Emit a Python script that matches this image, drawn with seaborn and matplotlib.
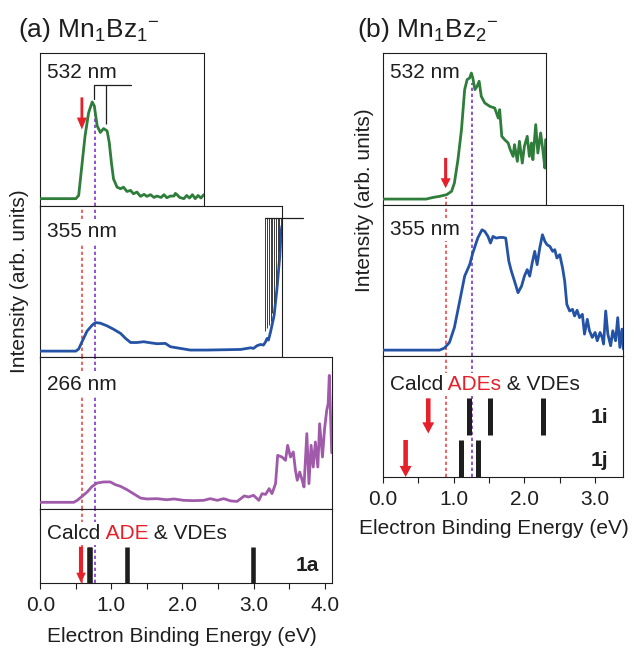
import matplotlib
matplotlib.use("Agg")
import matplotlib.pyplot as plt
import seaborn as sns
from matplotlib.ticker import FixedLocator, MultipleLocator, FormatStrFormatter

sns.set_style("ticks")
plt.rcParams["font.family"] = ["Liberation Sans", "DejaVu Sans"]
plt.rcParams["mathtext.fontset"] = "custom"
plt.rcParams["mathtext.rm"] = "Liberation Sans"
plt.rcParams["mathtext.default"] = "regular"

FS = 15
INK = "#1e1e1e"
GREEN = "#2f7d3a"
BLUE = "#2453a6"
PURPLE = "#a05aaa"
RED = "#e5202a"
RED_DOT = "#f04848"
PURPLE_DOT = "#7e36c8"

# ---------------- Mn1Bz1- spectra (eV, relative intensity) ----------------
a532_eV = [0.00, 0.50, 0.54, 0.59, 0.63, 0.68, 0.73, 0.76, 0.80, 0.845, 0.89, 0.94, 0.97,
           1.00, 1.03, 1.08, 1.13, 1.17, 1.22, 1.27, 1.31, 1.36, 1.41, 1.46, 1.50, 1.55,
           1.60, 1.64, 1.70, 1.74, 1.78, 1.83, 1.88, 1.90, 1.92, 1.96, 2.02, 2.06, 2.10,
           2.14, 2.18, 2.22, 2.26, 2.30]
a532_int = [0.048, 0.048, 0.069, 0.286, 0.459, 0.610, 0.680, 0.654, 0.524, 0.481, 0.506,
            0.491, 0.416, 0.286, 0.177, 0.123, 0.113, 0.123, 0.095, 0.102, 0.080, 0.091,
            0.063, 0.076, 0.063, 0.074, 0.056, 0.065, 0.056, 0.074, 0.054, 0.065, 0.065,
            0.082, 0.076, 0.056, 0.048, 0.069, 0.052, 0.074, 0.048, 0.069, 0.052, 0.074]

a355_eV = [0.00, 0.50, 0.54, 0.587, 0.657, 0.73, 0.775, 0.845, 0.94, 1.03, 1.13, 1.20,
           1.27, 1.36, 1.455, 1.55, 1.64, 1.76, 1.83, 1.97, 2.11, 2.35, 2.58, 2.82, 2.96,
           3.00, 3.05, 3.10, 3.14, 3.17, 3.19, 3.21, 3.24, 3.29, 3.33, 3.37, 3.39, 3.40]
a355_int = [0.039, 0.039, 0.053, 0.101, 0.171, 0.211, 0.228, 0.224, 0.206, 0.184, 0.156,
            0.123, 0.096, 0.096, 0.101, 0.094, 0.088, 0.090, 0.068, 0.057, 0.046, 0.046,
            0.048, 0.050, 0.061, 0.057, 0.075, 0.083, 0.079, 0.101, 0.123, 0.112, 0.167,
            0.276, 0.452, 0.671, 0.836, 0.868]

a266_eV = [0.00, 0.47, 0.52, 0.587, 0.66, 0.73, 0.80, 0.89, 0.986, 1.056, 1.13, 1.22, 1.31,
           1.41, 1.50, 1.64, 1.78, 1.88, 2.02, 2.16, 2.30, 2.39, 2.49, 2.58, 2.68, 2.77,
           2.82, 2.87, 2.93, 3.00, 3.075, 3.12, 3.17, 3.22, 3.26, 3.31, 3.34, 3.40, 3.45,
           3.48, 3.52, 3.56, 3.59, 3.615, 3.65, 3.685, 3.71, 3.75, 3.78, 3.81, 3.84, 3.87,
           3.905, 3.93, 3.97, 4.00, 4.03, 4.05, 4.066, 4.08, 4.10]
a266_int = [0.044, 0.044, 0.057, 0.083, 0.112, 0.149, 0.171, 0.178, 0.178, 0.160, 0.149,
            0.127, 0.101, 0.072, 0.066, 0.068, 0.061, 0.066, 0.057, 0.055, 0.057, 0.068,
            0.057, 0.068, 0.053, 0.050, 0.068, 0.086, 0.079, 0.090, 0.057, 0.101, 0.096,
            0.134, 0.101, 0.167, 0.353, 0.342, 0.320, 0.419, 0.342, 0.375, 0.254, 0.189,
            0.243, 0.189, 0.145, 0.496, 0.167, 0.419, 0.276, 0.441, 0.276, 0.561, 0.342,
            0.529, 0.649, 0.693, 0.879, 0.671, 0.370]

# vibrational progression marked on the 532 nm band
a532_comb_eV = [0.75, 0.925]
a532_comb_low = [0.697, 0.535]
a532_comb_top = 0.788
a532_comb_end = 1.28

# onset comb on the 355 nm spectrum
a355_comb_eV = [3.155, 3.185, 3.215, 3.24, 3.265, 3.29, 3.315, 3.34, 3.365, 3.39]
a355_comb_low = [0.17, 0.19, 0.21, 0.24, 0.29, 0.36, 0.48, 0.60, 0.70, 0.80]
a355_comb_top = 0.923
a355_comb_end = 3.70

# experimental ADE / VDE and calculated values for isomer 1a
a_ade_exp = 0.583
a_vde_exp = 0.765
a_arrow532 = 0.585
a_ade_calc = 0.573
a_vde_calc = [0.68, 0.70, 1.217, 2.986]

# ---------------- Mn1Bz2- spectra ----------------
b532_eV = [0.00, 0.61, 0.71, 0.80, 0.90, 0.97, 1.01, 1.06, 1.11, 1.155, 1.19, 1.226, 1.25,
           1.27, 1.30, 1.33, 1.36, 1.39, 1.44, 1.51, 1.58, 1.63, 1.65, 1.68, 1.72, 1.77,
           1.80, 1.84, 1.86, 1.90, 1.93, 1.97, 2.00, 2.04, 2.07, 2.10, 2.12, 2.16, 2.19,
           2.23, 2.26, 2.29, 2.30]
b532_int = [0.039, 0.039, 0.050, 0.057, 0.068, 0.090, 0.145, 0.298, 0.496, 0.759, 0.825,
            0.836, 0.868, 0.836, 0.759, 0.781, 0.814, 0.715, 0.671, 0.649, 0.638, 0.572,
            0.627, 0.452, 0.430, 0.408, 0.364, 0.320, 0.397, 0.287, 0.419, 0.276, 0.386,
            0.452, 0.320, 0.408, 0.298, 0.529, 0.342, 0.474, 0.364, 0.243, 0.430]

b355_eV = [0.00, 0.80, 0.87, 0.94, 1.01, 1.085, 1.155, 1.226, 1.27, 1.34, 1.40, 1.44, 1.485,
           1.52, 1.556, 1.60, 1.65, 1.70, 1.736, 1.78, 1.816, 1.86, 1.91, 1.96, 2.00, 2.04,
           2.075, 2.11, 2.146, 2.18, 2.217, 2.255, 2.29, 2.32, 2.36, 2.40, 2.43, 2.46, 2.50,
           2.54, 2.57, 2.60, 2.64, 2.68, 2.71, 2.745, 2.78, 2.82, 2.85, 2.89, 2.92, 2.96,
           3.00, 3.03, 3.07, 3.10, 3.12, 3.15, 3.18, 3.22, 3.25, 3.29, 3.32, 3.35, 3.38, 3.40]
b355_int = [0.039, 0.039, 0.053, 0.090, 0.189, 0.364, 0.529, 0.605, 0.682, 0.781, 0.836,
            0.825, 0.792, 0.748, 0.792, 0.781, 0.785, 0.785, 0.781, 0.627, 0.561, 0.496,
            0.419, 0.463, 0.529, 0.572, 0.529, 0.616, 0.693, 0.605, 0.715, 0.803, 0.759,
            0.737, 0.726, 0.693, 0.704, 0.649, 0.671, 0.583, 0.496, 0.342, 0.298, 0.309,
            0.265, 0.303, 0.254, 0.276, 0.145, 0.243, 0.167, 0.123, 0.156, 0.101, 0.156,
            0.123, 0.079, 0.298, 0.145, 0.068, 0.167, 0.101, 0.254, 0.057, 0.178, 0.046]

b_ade_exp = 0.886
b_vde_exp = 1.26
b_ade_calc = {"1i": 0.64, "1j": 0.32}
b_vde_calc = {"1i": [1.22, 1.515, 2.27], "1j": [1.11, 1.34]}

ticks_a = [0.0, 1.0, 2.0, 3.0, 4.0]
ticks_b = [0.0, 1.0, 2.0, 3.0]

XLABEL = "Electron Binding Energy (eV)"

# ---------------- layout helpers ----------------
W, H = 634, 649
fig = plt.figure(figsize=(W / 100, H / 100), dpi=100)


def panel(left, top, bottom, px_per_ev, xmax, ticks, show_labels=False):
    ax = fig.add_axes([left / W, 1 - bottom / H, xmax * px_per_ev / W, (bottom - top) / H])
    ax.set_xlim(0, xmax)
    ax.set_ylim(0, 1)
    ax.xaxis.set_major_locator(FixedLocator(ticks))
    ax.xaxis.set_minor_locator(MultipleLocator(0.5))
    ax.xaxis.set_major_formatter(FormatStrFormatter("%.1f"))
    ax.tick_params(axis="x", which="both", direction="out", length=4.2, width=0.8,
                   color=INK, top=False, labelbottom=show_labels, labelsize=FS,
                   pad=5, labelcolor=INK)
    ax.tick_params(axis="y", left=False, labelleft=False)
    for s in ax.spines.values():
        s.set_linewidth(0.8)
        s.set_color(INK)
        s.set_visible(True)
    return ax


def curve(ax, xs, ys, color):
    sns.lineplot(x=xs, y=ys, ax=ax, color=color, lw=2.0, sort=False, estimator=None,
                 zorder=3)
    ax.set_xlabel("")
    ax.set_ylabel("")


def tag(ax, s, dy):
    ax.annotate(s, xy=(0, 1), xycoords="axes fraction", xytext=(7, -dy),
                textcoords="offset pixels", ha="left", va="baseline", fontsize=FS,
                color=INK, bbox=dict(fc="white", ec="none", pad=1.5), zorder=6)


def calcd_tag(ax, word, dy):
    box = dict(fc="white", ec="none", pad=1.5)
    t1 = ax.annotate("Calcd", xy=(0, 1), xycoords="axes fraction", xytext=(7, -dy),
                     textcoords="offset pixels", ha="left", va="baseline", fontsize=FS,
                     color=INK, bbox=box, zorder=8)
    t2 = ax.annotate(" " + word, xy=(1, 0), xycoords=t1, ha="left", va="bottom",
                     fontsize=FS, color=RED, bbox=box, zorder=7)
    ax.annotate(" & VDEs", xy=(1, 0), xycoords=t2, ha="left", va="bottom",
                fontsize=FS, color=INK, bbox=box, zorder=6)


def dotted(ax, x, color, y0=0, y1=1):
    ax.vlines(x, y0, y1, colors=color, linestyles=(0, (2.0, 1.6)), lw=1.2, zorder=2)


def red_arrow(ax, x, y_tail, y_tip, hw, hl, tw):
    ax.annotate("", xy=(x, y_tip), xytext=(x, y_tail),
                arrowprops=dict(arrowstyle=f"simple,head_width={hw},head_length={hl},tail_width={tw}",
                                color=RED, lw=0, shrinkA=0, shrinkB=0, mutation_scale=10),
                zorder=9)


def bars(ax, xs, y0, y1, lw):
    ax.vlines(xs, y0, y1, colors=INK, lw=lw, zorder=4, capstyle="butt")


# ---------------- (a) Mn1Bz1- ----------------
pa = 291.4 / 4.1
ax1 = panel(40.3, 53, 206, pa, 2.3, ticks_a)
ax2 = panel(40.3, 206, 357, pa, 3.4, ticks_a)
ax3 = panel(40.3, 357, 509, pa, 4.1, ticks_a)
ax4 = panel(40.3, 509, 583, pa, 4.1, ticks_a, show_labels=True)

curve(ax1, a532_eV, a532_int, GREEN)
curve(ax2, a355_eV, a355_int, BLUE)
curve(ax3, a266_eV, a266_int, PURPLE)

dotted(ax1, a_vde_exp, PURPLE_DOT, 0, 0.655)
for ax in (ax2, ax3, ax4):
    dotted(ax, a_ade_exp, RED_DOT)
    dotted(ax, a_vde_exp, PURPLE_DOT)

ax1.plot([a532_comb_eV[0], a532_comb_eV[0], a532_comb_end],
         [a532_comb_low[0], a532_comb_top, a532_comb_top], color=INK, lw=0.9, zorder=4)
ax1.vlines(a532_comb_eV[1:], a532_comb_low[1:], a532_comb_top, colors=INK, lw=0.9, zorder=4)
red_arrow(ax1, a_arrow532, 0.71, 0.50, 0.72, 0.86, 0.2)

ax2.vlines(a355_comb_eV, a355_comb_low, a355_comb_top, colors="#3a3a3a", lw=0.7, zorder=4)
ax2.plot([a355_comb_eV[0], a355_comb_end], [a355_comb_top, a355_comb_top], color=INK,
         lw=0.9, clip_on=False, zorder=4)

tag(ax1, "532 nm", 25)
tag(ax2, "355 nm", 31)
tag(ax3, "266 nm", 33)
calcd_tag(ax4, "ADE", 30)

bars(ax4, a_vde_calc, 0, 0.49, 3.3)
red_arrow(ax4, a_ade_calc, 0.49, 0.0, 0.68, 0.74, 0.3)
ax4.text(3.92, 0.16, "1a", ha="right", va="baseline", fontsize=FS, fontweight="bold",
         color=INK, zorder=6)
ax4.set_xlabel(XLABEL, fontsize=FS, color=INK)
ax4.xaxis.set_label_coords(0.485, -0.595)

fig.text(18 / W, 1 - 30 / H, r"(a) Mn$_1$Bz$_1$$^{-}$", fontsize=19, color=INK,
         ha="left", va="center")
fig.text(20 / W, 1 - 281 / H, "Intensity (arb. units)", fontsize=FS, color=INK,
         rotation=90, ha="center", va="center")

# ---------------- (b) Mn1Bz2- ----------------
pb = 70.7
bx1 = panel(383, 53, 205, pb, 2.3, ticks_b)
bx2 = panel(383, 205, 356, pb, 3.4, ticks_b)
bx3 = panel(383, 356, 477, pb, 3.4, ticks_b, show_labels=True)

curve(bx1, b532_eV, b532_int, GREEN)
curve(bx2, b355_eV, b355_int, BLUE)

dotted(bx1, b_vde_exp, PURPLE_DOT, 0, 0.80)
dotted(bx1, b_ade_exp, RED_DOT, 0, 0.05)
for ax in (bx2, bx3):
    dotted(ax, b_ade_exp, RED_DOT)
    dotted(ax, b_vde_exp, PURPLE_DOT)

red_arrow(bx1, b_ade_exp, 0.31, 0.11, 0.72, 0.72, 0.22)

tag(bx1, "532 nm", 25)
tag(bx2, "355 nm", 30)
calcd_tag(bx3, "ADEs", 34)

bars(bx3, b_vde_calc["1i"], 0.347, 0.65, 3.6)
bars(bx3, b_vde_calc["1j"], 0.0, 0.306, 3.6)
red_arrow(bx3, b_ade_calc["1i"], 0.65, 0.36, 0.86, 0.8, 0.33)
red_arrow(bx3, b_ade_calc["1j"], 0.306, 0.0, 0.86, 0.8, 0.33)
bx3.text(3.18, 0.444, "1i", ha="right", va="baseline", fontsize=FS, fontweight="bold",
         color=INK, zorder=6)
bx3.text(3.18, 0.091, "1j", ha="right", va="baseline", fontsize=FS, fontweight="bold",
         color=INK, zorder=6)
bx3.set_xlabel(XLABEL, fontsize=FS, color=INK)
bx3.xaxis.set_label_coords(0.46, -0.347)

fig.text(357 / W, 1 - 30 / H, r"(b) Mn$_1$Bz$_2$$^{-}$", fontsize=19, color=INK,
         ha="left", va="center")
fig.text(364 / W, 1 - 200 / H, "Intensity (arb. units)", fontsize=FS, color=INK,
         rotation=90, ha="center", va="center")

fig.savefig("out.png", dpi=100)
